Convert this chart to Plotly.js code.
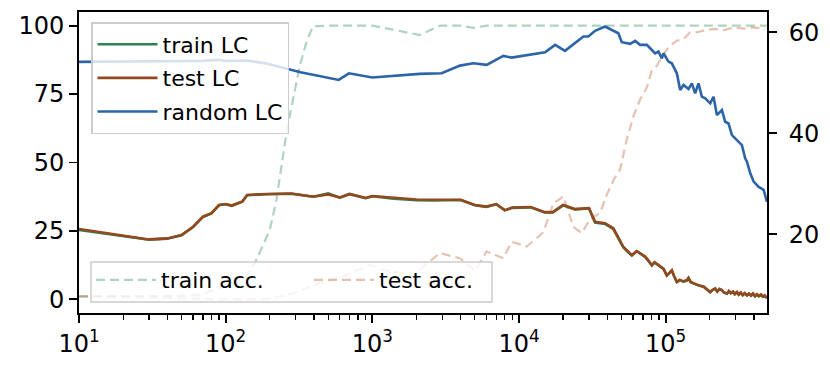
<!DOCTYPE html>
<html>
<head>
<meta charset="utf-8">
<script src="https://cdn.plot.ly/plotly-3.0.1.min.js"></script>
<style>html,body{margin:0;padding:0;background:#fff;}#plot{width:830px;height:369px;}</style>
</head>
<body>
<div id="plot"></div>
<script>
// ---- LC curves (right axis) ----
const lcSteps = [10,20,30,40,50,60,70,80,90,100,110,130,140,190,280,370,400,500,600,700,900,1000,1400,2000,2600,4000,5000,6000,7000,8000,9000,12000,15000,17000,20000,24000,30000,33000,38600,44000,51500,55000,58800,63600,68000,72400,76000,80500,84000,87100,92000,96600,101800,106000,110200,114000,119200,125000,132000,139500,143100,148000,154900,162000,170000,181300,190000,201300,208000,217700,225000,233000,241900,250000,261800,270000,278000,288000,296000,306300,315000,325000,335000,346000,358400,370000,382000,394000,406000,419300,432000,446000,460000,474000,490000];
const testLC = [21.05,19.7,19.0,19.2,19.85,21.5,23.5,24.2,25.8,26.0,25.7,26.5,27.8,28.0,28.1,27.6,27.5,27.9,27.3,28.0,27.2,27.6,27.2,26.9,26.85,26.85,25.8,25.5,26.0,24.8,25.3,25.4,24.4,24.4,25.8,25.0,25.2,22.5,22.2,21.2,17.5,16.6,15.9,16.7,16.2,15.6,14.9,13.9,14.5,14.2,13.6,13.2,11.9,12.5,12.9,11.8,10.6,11.0,10.7,10.9,11.4,10.6,10.3,10.1,9.9,9.7,9.2,8.6,9.0,9.3,8.7,9.2,9.0,8.5,8.3,8.8,8.4,8.7,8.2,8.6,8.1,8.5,8.0,8.4,7.95,8.3,7.9,8.3,7.8,8.15,7.8,8.1,7.7,7.9,7.4];
const trainLC = [20.9,19.6,18.95,19.15,19.8,21.45,23.45,24.15,25.75,25.95,25.65,26.45,27.75,27.95,28.05,27.55,27.45,28.1,27.25,27.95,27.15,27.55,27.05,26.75,26.7,26.8,25.75,25.45,25.95,24.75,25.25,25.35,24.35,24.35,25.75,24.95,25.15,22.35,22.05,21.05,17.4,16.55,15.8,16.65,16.1,15.55,14.8,13.85,14.45,14.1,13.55,13.15,11.85,12.45,12.85,11.75,10.55,10.95,10.65,10.85,11.35,10.55,10.25,10.05,9.85,9.65,9.15,8.55,8.95,9.25,8.65,9.15,8.95,8.45,8.25,8.75,8.35,8.65,8.15,8.55,8.05,8.45,7.95,8.35,7.9,8.25,7.85,8.25,7.75,8.1,7.75,8.05,7.65,7.85,7.35];

const randSteps = [10,20,30,40,50,60,70,80,90,100,123,140,190,324,394,590,692,1000,2100,2970,3960,4880,6020,7820,8910,11900,15060,17630,20600,27470,29720,33020,38600,47600,50200,57250,61950,67000,74400,78400,84800,89300,94200,96600,104500,110200,119200,125600,132400,143100,150900,158900,167500,176500,186100,201300,212000,223500,241900,254700,268300,283100,298000,314100,331100,349000,358000,377500,398000,430800,465800,490000];
const randomLC = [54.13,54.15,54.15,54.18,54.22,54.3,54.35,54.4,54.52,54.3,54.33,54.4,53.8,52.06,51.6,50.56,51.87,51.05,51.75,51.87,53.39,53.85,53.53,55.32,54.98,55.63,56.03,57.5,56.31,59.15,59.15,60.28,61.13,59.8,58.02,57.7,58.29,57.5,57.5,56.83,55.83,56.17,54.84,55.83,54.19,53.85,51.87,48.57,49.56,48.77,49.88,47.9,49.88,47.24,46.9,45.91,47.24,43.61,44.6,42.28,41.94,39.64,38.97,38.17,37.66,35.0,34.4,32.1,30.44,29.4,28.8,26.47];

// ---- accuracies (left axis, %) ----
const trainAccSteps = [10,40,66,95,138,162,200,222,240,260,288,320,355,394,500,1000,1400,2100,2900,4000,4900,6000,490000];
const trainAcc = [1.2,1.2,1.5,4.6,8.3,14.4,25.4,36.4,48.6,60.9,73.1,85.3,93.9,99.8,100,100,98.5,96.6,100,100,99.2,100,100];
const testAccSteps = [10,40,91,190,288,438,632,962,1186,1900,2890,3955,5010,6015,7815,8910,11290,14660,17140,20050,23480,26800,30540,35730,39700,44000,48900,54300,60300,67000,74400,80500,87100,96600,107400,119200,132400,146900,163300,181300,212000,250000,290300,340000,397000,440000,477700];
const testAcc = [1.0,0.6,0.0,0.0,2.2,5.9,8.3,12.6,10.7,8.9,16.9,15.0,10.4,17.5,15.0,21.0,19.3,24.5,35.0,37.6,26.5,24.2,29.4,31.5,38.2,43.5,47.5,58.4,66.9,73.1,77.4,83.6,85.3,89.6,92.7,94.5,95.1,97.6,97.6,98.2,98.8,98.4,99.4,98.9,99.4,99.0,98.8];

const xTickVals = [10,100,1000,10000,100000];
const xTickText = ['10<sup>1</sup>','10<sup>2</sup>','10<sup>3</sup>','10<sup>4</sup>','10<sup>5</sup>'];
const leftTicks = [0,25,50,75,100];
const rightTicks = [20,40,60];

const minorVals = [];
for (let e = 1; e <= 5; e++) for (let m = 2; m <= 9; m++) minorVals.push(m * Math.pow(10, e));

const GREEN = '#2e8350', BROWN = '#94481e', BLUE = '#2b65a8';
const FONT = 'DejaVu Sans, sans-serif';

const traces = [
  {x: trainAccSteps, y: trainAcc, name: 'train acc.', mode: 'lines', yaxis: 'y', legend: 'legend2',
   line: {color: 'rgba(46,139,87,0.38)', width: 2.2, dash: '9px,5px'}},
  {x: testAccSteps, y: testAcc, name: 'test acc.', mode: 'lines', yaxis: 'y', legend: 'legend2',
   line: {color: 'rgba(190,95,55,0.38)', width: 2.2, dash: '9px,5px'}},
  {x: lcSteps, y: trainLC, name: 'train LC', mode: 'lines', yaxis: 'y2', legend: 'legend', legendgroup: 'a',
   line: {color: GREEN, width: 2.6}},
  {x: lcSteps, y: testLC, name: 'test LC', mode: 'lines', yaxis: 'y2', legend: 'legend', legendgroup: 'b',
   line: {color: BROWN, width: 2.6}},
  {x: randSteps, y: randomLC, name: 'random LC', mode: 'lines', yaxis: 'y2', legend: 'legend', legendgroup: 'c',
   line: {color: BLUE, width: 2.6}}
];

// plot area in px: x 79..767, y 12..313
const px = v => (v - 79) / 688;
const py = v => (313 - v) / 301;

const layout = {
  width: 830, height: 369,
  margin: {l: 79, r: 63, t: 12, b: 56},
  paper_bgcolor: '#fff', plot_bgcolor: '#fff',
  font: {family: FONT, size: 24, color: '#000'},
  showlegend: true,
  xaxis: {type: 'log', range: [1, 5.691], tickmode: 'array', tickvals: xTickVals, ticktext: xTickText,
    ticks: 'outside', ticklen: 8, tickwidth: 1.8, tickcolor: '#000',
    showline: true, linecolor: '#000', linewidth: 2, mirror: true, showgrid: false, zeroline: false,
    minor: {tickmode: 'array', tickvals: minorVals, ticks: 'outside', ticklen: 4.5, tickwidth: 1.3, tickcolor: '#000', showgrid: false}},
  yaxis: {range: [-5, 105], tickmode: 'array', tickvals: leftTicks, ticks: 'outside', ticklen: 8, tickwidth: 1.8, tickcolor: '#000',
    showline: true, linecolor: '#000', linewidth: 2, showgrid: false, zeroline: false},
  yaxis2: {overlaying: 'y', side: 'right', range: [4.44, 64.0], tickmode: 'array', tickvals: rightTicks,
    ticks: 'outside', ticklen: 8, tickwidth: 1.8, tickcolor: '#000', ticklabelstandoff: 7,
    showline: true, linecolor: '#000', linewidth: 2, showgrid: false, zeroline: false},
  legend: {x: px(91), y: py(22), xanchor: 'left', yanchor: 'top', bgcolor: 'rgba(255,255,255,0.8)',
    bordercolor: '#cccccc', borderwidth: 1.5, font: {family: FONT, size: 22, color: '#000'},
    traceorder: 'grouped', tracegroupgap: 2, itemwidth: 60},
  legend2: {x: px(91), y: py(301), xanchor: 'left', yanchor: 'bottom', orientation: 'h', bgcolor: 'rgba(0,0,0,0)',
    borderwidth: 0, font: {family: FONT, size: 22, color: '#000'}, itemwidth: 60, entrywidth: 143, entrywidthmode: 'pixels'},
  shapes: [
    {type: 'rect', xref: 'paper', yref: 'paper', x0: px(91), x1: px(492), y0: py(302), y1: py(262), layer: 'above',
     fillcolor: 'rgba(255,255,255,0.8)', line: {color: '#cccccc', width: 1.5}}
  ]
};

Plotly.newPlot('plot', traces, layout, {staticPlot: true, displayModeBar: false});
</script>
</body>
</html>
